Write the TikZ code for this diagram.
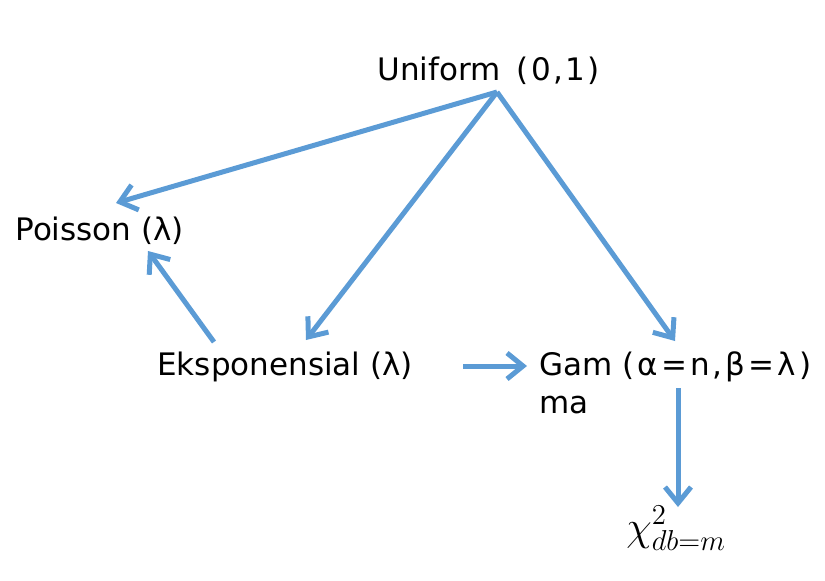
\documentclass[tikz,border=0pt]{standalone}
\usepackage{fontspec}
\setmainfont{DejaVu Sans}
\usetikzlibrary{arrows.meta}
\definecolor{lineblue}{RGB}{91,155,213}
\tikzset{
  lbl/.style={anchor=base west,inner sep=0pt,font=\fontsize{15.5}{19}\selectfont},
  link/.style={draw=lineblue,line width=2.5pt,-{Straight Barb[length=8pt,width=13pt,line width=2.5pt]}}
}
\begin{document}
\begin{tikzpicture}[x=0.5pt,y=-0.5pt]
      \useasboundingbox (0,0) rectangle (825,580);
      \draw
        (377,80) node[lbl] (unif){Uniform\hspace{8pt}{\addfontfeatures{LetterSpace=8}(0,1)}}
        (15,240) node[lbl] (pois){Poisson (λ)}
        (157,375) node[lbl] (eksp){Eksponensial (λ)}
        (539,413) node[lbl,align=left] (gam){Gam\\ma}
        (622,375) node[lbl] (par){\addfontfeatures{LetterSpace=10}(α=n,β=λ)}
        (626,540) node[anchor=base west,inner sep=0pt,font=\fontsize{20}{22}\selectfont] (chi){$\chi^2_{db=m}$};
      \coordinate (u) at (497,92);
      \coordinate (p) at (116,203);
      \coordinate (pe) at (148,251);
      \coordinate (e) at (306,340);
      \coordinate (es) at (214,342);
      \coordinate (g) at (675,341);
      \coordinate (er) at (463,366);
      \coordinate (gl) at (527,366);
      \coordinate (pb) at (678,388);
      \coordinate (c) at (678,507);
      \begin{scope}[link]
        \draw (u) to (p);
        \draw (u) to (e);
        \draw (u) to (g);
        \draw (es) to (pe);
        \draw (er) to (gl);
        \draw (pb) to (c);
      \end{scope}
    \end{tikzpicture}
\end{document}
